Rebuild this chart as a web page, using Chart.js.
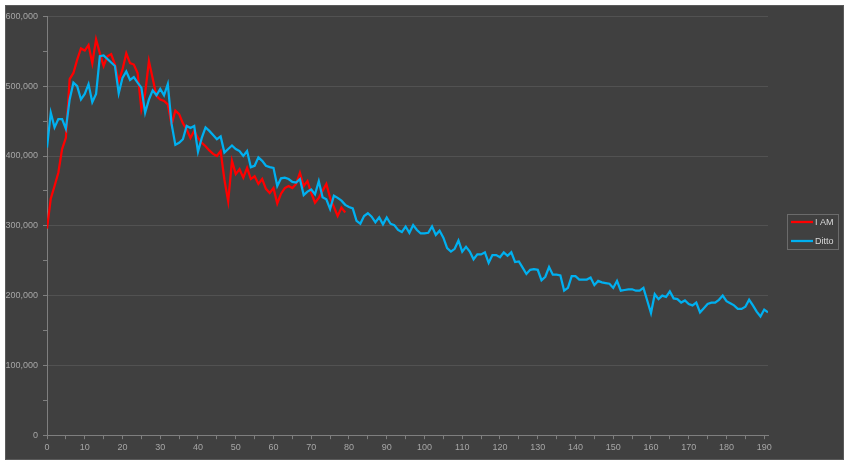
<!DOCTYPE html>
<html>
<head>
<meta charset="utf-8">
<script src="https://cdn.jsdelivr.net/npm/chart.js@4/dist/chart.umd.min.js"></script>
<style>
    html, body {
        margin: 0;
        padding: 0;
        background: #ffffff;
    }
    #wrap {
        position: absolute;
        left: 5px;
        top: 5px;
        width: 839px;
        height: 455px;
        box-sizing: border-box;
        border: 1px solid #5a5a5a;
        background: #404040;
    }
</style>
</head>
<body>
<div id="wrap"><canvas id="chart"></canvas></div>
<script>
// Values, one point per x (0, 1, 2, ...)
const iAmLabel = "I AM";
const iAmValues = [
    296000, 339000, 357000, 376000, 410000, 426000, 510000, 519000, 538000, 554000,
    551000, 559000, 533000, 567000, 547000, 529000, 543000, 546000, 531000, 507000,
    524000, 547000, 533000, 531000, 519000, 467000, 490000, 536000, 511000, 486000,
    481000, 479000, 474000, 445000, 465000, 460000, 447000, 438000, 426000, 436000,
    426000, 419000, 414000, 408000, 403000, 400000, 407000, 366000, 335000, 393000,
    374000, 381000, 369000, 383000, 367000, 371000, 360000, 367000, 353000, 347000,
    354000, 332000, 346000, 354000, 357000, 354000, 360000, 376000, 357000, 364000,
    347000, 333000, 340000, 350000, 360000, 340000, 327000, 314000, 326000, 319000,
];

const dittoLabel = "Ditto";
const dittoValues = [
    412000, 462000, 441000, 453000, 453000, 439000, 481000, 505000, 500000, 481000,
    489000, 503000, 477000, 489000, 543000, 544000, 539000, 534000, 529000, 490000,
    512000, 521000, 509000, 513000, 505000, 498000, 462000, 481000, 494000, 487000,
    496000, 487000, 503000, 446000, 416000, 419000, 424000, 443000, 440000, 443000,
    406000, 426000, 441000, 436000, 430000, 424000, 428000, 405000, 410000, 415000,
    410000, 407000, 400000, 407000, 384000, 386000, 398000, 393000, 386000, 384000,
    383000, 357000, 368000, 369000, 367000, 363000, 362000, 367000, 344000, 349000,
    352000, 345000, 364000, 341000, 338000, 324000, 343000, 340000, 336000, 330000,
    327000, 325000, 307000, 303000, 314000, 318000, 313000, 305000, 312000, 302000,
    312000, 303000, 301000, 294000, 291000, 299000, 290000, 301000, 294000, 289000,
    289000, 290000, 299000, 287000, 293000, 283000, 268000, 263000, 267000, 279000,
    263000, 270000, 263000, 252000, 259000, 259000, 262000, 247000, 258000, 258000,
    255000, 262000, 257000, 262000, 248000, 249000, 240000, 231000, 237000, 238000,
    237000, 222000, 227000, 241000, 230000, 230000, 229000, 207000, 211000, 228000,
    228000, 223000, 223000, 223000, 226000, 215000, 221000, 219000, 218000, 217000,
    211000, 221000, 207000, 208000, 209000, 209000, 207000, 207000, 211000, 193000,
    175000, 202000, 195000, 200000, 198000, 206000, 196000, 195000, 190000, 193000,
    188000, 186000, 190000, 176000, 182000, 188000, 190000, 190000, 194000, 200000,
    192000, 189000, 186000, 181000, 181000, 184000, 194000, 186000, 177000, 170000,
    180000, 176000,
];

// Axis ticks
const xMin = 0;
const xMax = 191;
const xLabelStep = 10;
const xMinorStep = 5;
const yMin = 0;
const yMax = 600000;
const yLabelStep = 100000;
const yMinorStep = 50000;

const toPoints = (values) => values.map((v, i) => ({ x: i, y: v }));

const tickFont = { family: "'Liberation Sans', Arial, sans-serif", size: 9 };
const tickColor = "#a6a6a6";
const axisColor = "#7f7f7f";
const gridColor = "#525252";

// Boxed legend at the right, like the spreadsheet one
const boxedLegend = {
    id: "boxedLegend",
    afterDraw(chart) {
        const { ctx, chartArea } = chart;
        const left = chartArea.right + 19;
        const width = 51;
        const height = 35;
        const top = chart.height / 2 - height / 2 - 1;

        ctx.save();
        ctx.strokeStyle = "#6b6b6b";
        ctx.lineWidth = 1;
        ctx.strokeRect(left + 0.5, top + 0.5, width, height);

        ctx.font = "9px 'Liberation Sans', Arial, sans-serif";
        ctx.textBaseline = "middle";
        ctx.fillStyle = "#d9d9d9";
        chart.data.datasets.forEach((ds, i) => {
            const y = top + 8 + i * 19;
            ctx.strokeStyle = ds.borderColor;
            ctx.lineWidth = ds.borderWidth;
            ctx.beginPath();
            ctx.moveTo(left + 4, y);
            ctx.lineTo(left + 26, y);
            ctx.stroke();
            ctx.fillText(ds.label, left + 28, y + 0.5);
        });
        ctx.restore();
    },
};

const ctx = document.getElementById("chart");

new Chart(ctx, {
    type: "line",
    data: {
        datasets: [
            {
                label: iAmLabel,
                data: toPoints(iAmValues),
                borderColor: "#ff0000",
                borderWidth: 2.25,
                pointRadius: 0,
                tension: 0,
                fill: false,
                order: 2,
            },
            {
                label: dittoLabel,
                data: toPoints(dittoValues),
                borderColor: "#00b0f0",
                borderWidth: 2.25,
                pointRadius: 0,
                tension: 0,
                fill: false,
                order: 1,
            },
        ],
    },
    options: {
        responsive: true,
        maintainAspectRatio: false,
        animation: false,
        layout: {
            padding: { left: 0, top: 3, right: 75, bottom: 3 },
        },
        scales: {
            x: {
                type: "linear",
                min: xMin,
                max: xMax,
                afterBuildTicks: (scale) => {
                    const ticks = [];
                    for (let v = xMin; v <= xMax; v += xMinorStep) ticks.push({ value: v });
                    scale.ticks = ticks;
                },
                ticks: {
                    autoSkip: false,
                    maxRotation: 0,
                    padding: 3,
                    color: tickColor,
                    font: tickFont,
                    callback: (v) => (v % xLabelStep === 0 ? v : ""),
                },
                grid: {
                    drawOnChartArea: false,
                    tickLength: 4,
                    tickColor: axisColor,
                },
                border: { color: axisColor, width: 1 },
            },
            y: {
                min: yMin,
                max: yMax,
                afterFit: (scale) => {
                    scale.width = 41;
                },
                ticks: {
                    stepSize: yMinorStep,
                    padding: 5,
                    color: tickColor,
                    font: tickFont,
                    callback: (v) =>
                        v % yLabelStep === 0 ? v.toLocaleString("en-US") : "",
                },
                grid: {
                    tickLength: 4,
                    color: (c) =>
                        c.tick && c.tick.value % yLabelStep === 0 && c.tick.value > 0
                            ? gridColor
                            : "transparent",
                    tickColor: axisColor,
                },
                border: { color: axisColor, width: 1 },
            },
        },
        plugins: {
            legend: { display: false },
            tooltip: { enabled: false },
        },
    },
    plugins: [boxedLegend],
});
</script>
</body>
</html>
